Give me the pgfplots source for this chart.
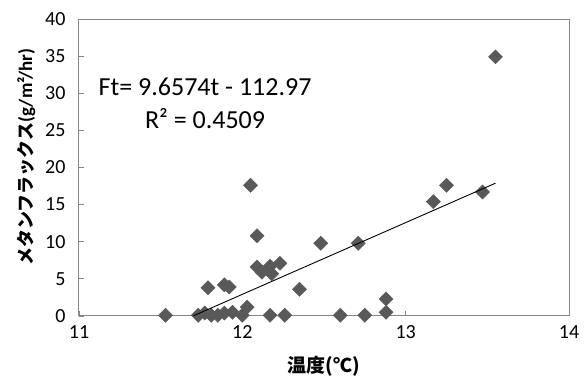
\documentclass[border=0pt]{standalone}
\usepackage{fontspec}
\setmainfont{Carlito}
\newfontfamily\jp{Noto Sans CJK JP}
\usepackage{pgfplots}
\pgfplotsset{compat=1.18}
\definecolor{mk}{HTML}{595959}
\definecolor{ax}{HTML}{868686}
\begin{document}
\begin{tikzpicture}
\begin{axis}[
  scale only axis, width=490pt, height=297pt,
  xmin=11, xmax=14, ymin=0, ymax=40,
  xtick={11,12,13,14}, ytick={0,5,...,40},
  tick align=inside, xtick pos=bottom, ytick pos=left,
  major tick length=5pt,
  axis line style={ax, line width=1pt},
  tick style={ax, line width=0.8pt},
  /pgf/number format/assume math mode=true,
  ticklabel style={font=\fontsize{20}{24}\selectfont, text=black},
  yticklabel style={xshift=-10pt},
  xticklabel style={yshift=-6pt},
  xlabel={{\jp\bfseries 温度(℃)}},
  xlabel style={at={(axis description cs:0.5,0)}, anchor=center, yshift=-50pt, font=\fontsize{19}{22}\selectfont},
  ylabel={{\jp\bfseries メタンフラックス}{\fontsize{19}{22}\selectfont\bfseries(g/m²/hr)}},
  ylabel style={at={(axis description cs:-0.108,0.535)}, anchor=center, font=\fontsize{18}{21}\selectfont},
  clip mode=individual,
]
\addplot[only marks, mark=square*, mark size=5pt, mark options={rotate=45, fill=mk, draw=mk}] coordinates {
(11.53,0.1) (11.73,0.1) (11.77,0.4) (11.81,0.1) (11.85,0.1) (11.89,0.4) (11.94,0.5)
(11.79,3.8) (11.89,4.2) (11.92,3.9) (12.00,0.1) (12.03,1.2) (12.05,17.6) (12.09,10.8)
(12.09,6.6) (12.12,5.9) (12.17,6.7) (12.18,5.7) (12.23,7.1) (12.17,0.1) (12.26,0.1)
(12.35,3.6) (12.48,9.8) (12.60,0.1) (12.71,9.8) (12.75,0.1) (12.88,0.5) (12.88,2.3)
(13.17,15.4) (13.25,17.6) (13.47,16.7) (13.55,34.9)
};
\addplot[black, line width=0.9pt] coordinates {(11.70,0.02) (13.55,17.89)};
\node[align=center, font=\fontsize{26}{33}\selectfont] at (axis cs:11.772,28.7) {Ft= 9.6574t - 112.97\\R² = 0.4509};
\end{axis}
\path ([xshift=-79pt,yshift=-67pt]current axis.south west) rectangle ([xshift=18pt,yshift=19pt]current axis.north east);
\end{tikzpicture}
\end{document}
